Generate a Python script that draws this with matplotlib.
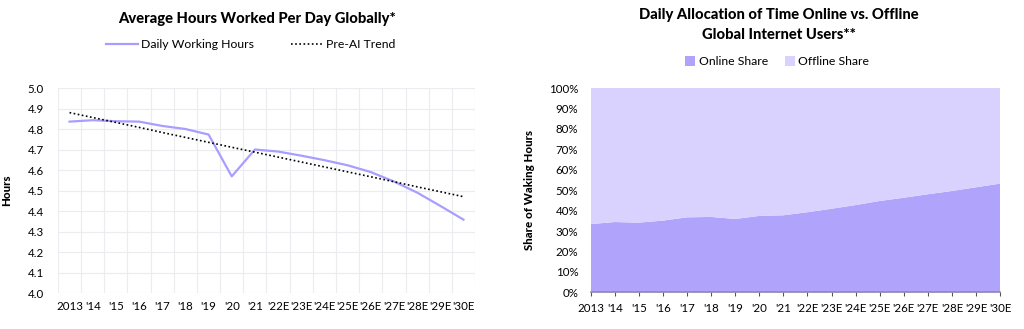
import matplotlib
matplotlib.use("Agg")
import matplotlib.pyplot as plt
import numpy as np

plt.rcParams['font.family'] = ['Lato', 'DejaVu Sans']

# categories
years = ["2013", "'14", "'15", "'16", "'17", "'18", "'19", "'20", "'21",
         "'22E", "'23E", "'24E", "'25E", "'26E", "'27E", "'28E", "'29E", "'30E"]

# left chart: hours worked per day
work_hours = [4.836, 4.843, 4.838, 4.836, 4.815, 4.80, 4.773, 4.569, 4.70,
              4.69, 4.67, 4.648, 4.623, 4.59, 4.544, 4.49, 4.425, 4.358]
pre_ai_trend = [4.88, 4.856, 4.832, 4.808, 4.783, 4.759, 4.735, 4.711, 4.687,
                4.663, 4.639, 4.615, 4.591, 4.567, 4.543, 4.518, 4.494, 4.47]

# right chart: online share of waking hours (%)
online_share = [33.4, 34.4, 34.1, 35.1, 36.7, 36.9, 35.9, 37.4, 37.7,
                39.2, 40.9, 42.7, 44.7, 46.3, 48.0, 49.6, 51.4, 53.2]
offline_share = [100 - v for v in online_share]

line_col = '#a89eff'
online_col = '#b0a3fb'
offline_col = '#d9d2fe'
grid_col = '#ececf0'

fig = plt.figure(figsize=(10.24, 3.29), dpi=100)
x = np.arange(len(years))

# ---- left chart ----
ax1 = fig.add_axes([0.0566, 0.1094, 0.4073, 0.6231])
ax1.plot(x, work_hours, color=line_col, lw=1.6, label='Daily Working Hours')
ax1.plot(x, pre_ai_trend, color='black', lw=1.2, ls=(0, (1, 1.5)), label='Pre-AI Trend')
ax1.set_xlim(-0.5, len(years) - 0.5)
ax1.set_ylim(4.0, 5.0)
ax1.set_yticks(np.arange(4.0, 5.01, 0.1))
ax1.set_yticklabels([f'{v:.1f}' for v in np.arange(4.0, 5.01, 0.1)])
ax1.set_xticks(x)
ax1.set_xticklabels(years)
ax1.set_xticks(np.arange(-0.5, len(years), 0.5), minor=True)
ax1.grid(True, which='minor', axis='x', color=grid_col, lw=0.8)
ax1.grid(True, which='major', axis='y', color=grid_col, lw=0.8)
ax1.set_axisbelow(True)
for s in ax1.spines.values():
    s.set_visible(False)
ax1.tick_params(which='both', length=0, labelsize=8.3, pad=6)
ax1.tick_params(axis='y', pad=22)
for lab in ax1.get_yticklabels():
    lab.set_horizontalalignment('left')
ax1.set_ylabel('Hours', fontsize=8.3, fontweight='black', labelpad=11)
fig.text(0.251, 0.942, 'Average Hours Worked Per Day Globally*', ha='center', va='center',
         fontsize=10.6, fontweight='black')
fig.legend(*ax1.get_legend_handles_labels(), loc='center', bbox_to_anchor=(0.245, 0.865),
           ncol=2, frameon=False, fontsize=8.8, handlelength=2.6, columnspacing=3.0,
           handletextpad=0.3)

# ---- right chart ----
ax2 = fig.add_axes([0.5769, 0.1115, 0.3997, 0.621])
ax2.stackplot(x, online_share, offline_share, colors=[online_col, offline_col],
              labels=['Online Share', 'Offline Share'], lw=0)
ax2.set_xlim(0, len(years) - 1)
ax2.set_ylim(0, 100)
ax2.set_yticks(np.arange(0, 101, 10))
ax2.set_yticklabels([f'{v}%' for v in range(0, 101, 10)])
ax2.set_xticks(x)
ax2.set_xticklabels(years)
for k, s in ax2.spines.items():
    s.set_visible(k == 'bottom')
ax2.spines['bottom'].set_color('#8c86b0')
ax2.spines['bottom'].set_linewidth(1.2)
ax2.tick_params(axis='x', length=3, color='#555555', labelsize=8.3, pad=5)
ax2.tick_params(axis='y', length=0, labelsize=8.3, pad=9)
ax2.set_ylabel('Share of Waking Hours', fontsize=8.3, fontweight='black', labelpad=10)
fig.text(0.761, 0.955, 'Daily Allocation of Time Online vs. Offline', ha='center',
         va='center', fontsize=10.6, fontweight='black')
fig.text(0.761, 0.893, 'Global Internet Users**', ha='center', va='center',
         fontsize=10.6, fontweight='black')
fig.legend(*ax2.get_legend_handles_labels(), loc='center', bbox_to_anchor=(0.759, 0.812),
           ncol=2, frameon=False, fontsize=8.8, handlelength=0.8, handleheight=0.8,
           columnspacing=1.4, handletextpad=0.3)

fig.savefig('out.png', dpi=100, facecolor='white')
